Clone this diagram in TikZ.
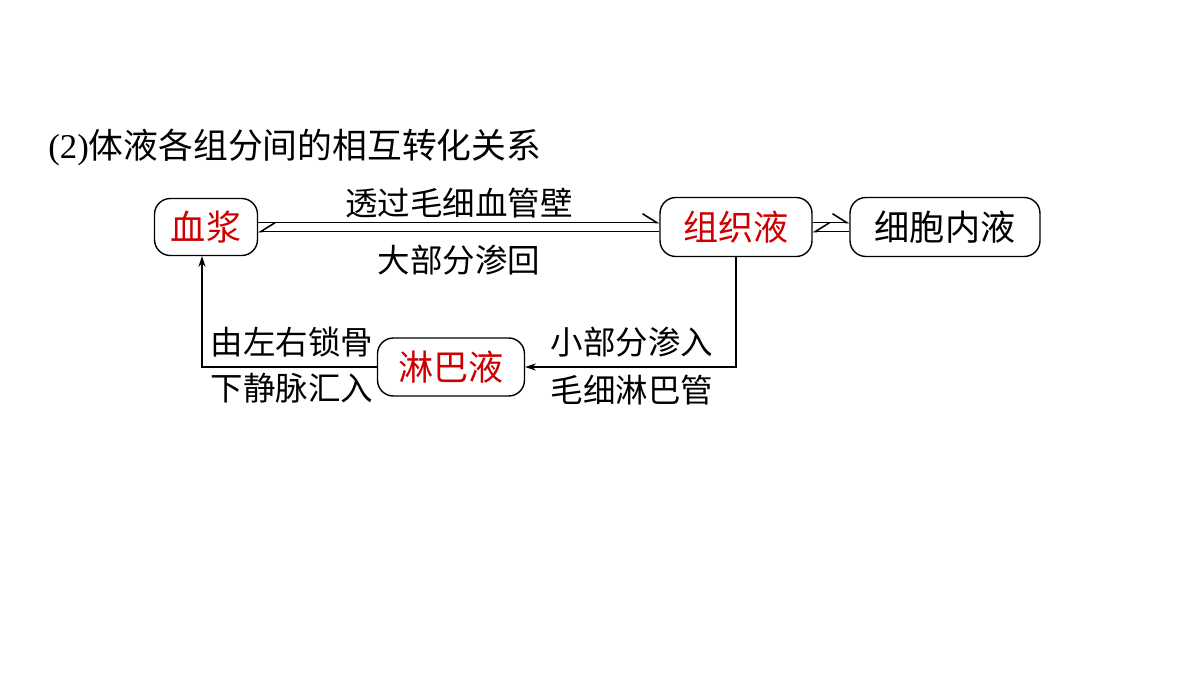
\documentclass[tikz,border=0pt]{standalone}
\usepackage{fontspec}
\setmainfont{Liberation Serif}
\newfontfamily\cjk{Noto Sans CJK SC}
\usetikzlibrary{arrows.meta}
\begin{document}
\begin{tikzpicture}[x=0.02cm,y=-0.02cm,
 box/.style={draw,thick,rounded corners=9pt,inner sep=0pt,font=\cjk\fontsize{20}{20}\selectfont},
 lbl/.style={font=\cjk\fontsize{18.5}{18.5}\selectfont,inner sep=0pt},
 ln/.style={line width=0.9pt},
 hr/.style={-{Straight Barb[harpoon,length=8pt,width=10pt]}},
 hl/.style={-{Straight Barb[harpoon,swap,length=8pt,width=10pt]}},
 arr/.style={-{Stealth[length=6pt,width=4pt]}}]
\useasboundingbox (0,0) rectangle (1200,675);
\node[anchor=west,inner sep=0pt,font=\fontsize{19.8}{19.8}\selectfont] (t) at (48,147) {(2){\cjk 体液各组分间的相互转化关系}};
\node[box,minimum width=2.06cm,minimum height=1.14cm,text=red!80!black] (xj) at (206,227) {血浆};
\node[box,minimum width=3.04cm,minimum height=1.18cm,text=red!80!black] (zz) at (736,227) {组织液};
\node[box,minimum width=3.8cm,minimum height=1.18cm] (xb) at (945,227) {细胞内液};
\node[box,minimum width=2.94cm,minimum height=1.16cm,text=red!80!black] (lb) at (451,367) {淋巴液};
\draw[ln,hr] ([yshift=0.09cm]xj.east) -- ([yshift=0.09cm]zz.west);
\draw[ln,hl] ([yshift=-0.09cm]zz.west) -- ([yshift=-0.09cm]xj.east);
\draw[ln,hr] ([yshift=0.09cm]zz.east) -- ([yshift=0.09cm]xb.west);
\draw[ln,hl] ([yshift=-0.09cm]xb.west) -- ([yshift=-0.09cm]zz.east);
\draw[ln,arr] (zz.south) |- (lb.east);
\coordinate (c) at (202,367);
\draw[ln,arr] (lb.west) -- (c) -- (c|-xj.south);
\node[lbl] (a1) at (459,203) {透过毛细血管壁};
\node[lbl] (a2) at (459,260) {大部分渗回};
\node[lbl] (a3) at (292,342) {由左右锁骨};
\node[lbl] (a4) at (292,388) {下静脉汇入};
\node[lbl] (a5) at (632,342) {小部分渗入};
\node[lbl] (a6) at (632,390) {毛细淋巴管};
\end{tikzpicture}
\end{document}
